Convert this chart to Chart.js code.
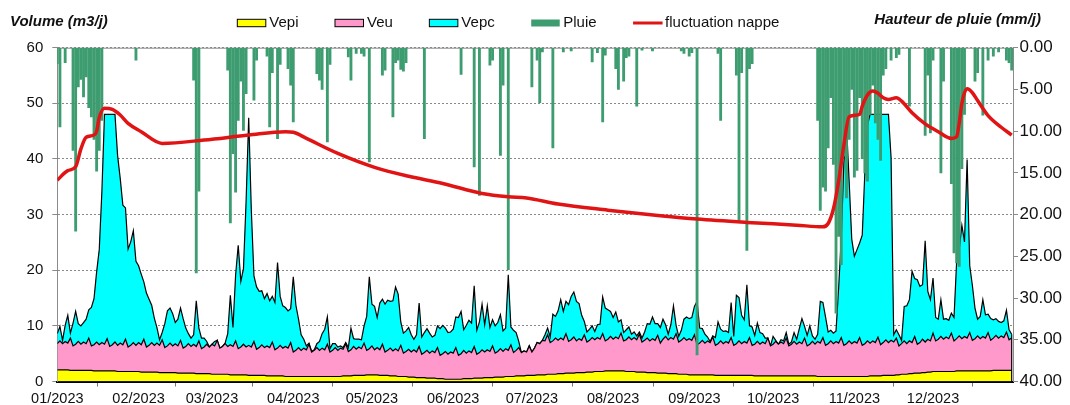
<!DOCTYPE html>
<html>
<head>
<meta charset="utf-8">
<title>Volumes et pluie 2023</title>
<script src="https://cdn.jsdelivr.net/npm/chart.js"></script>
<style>
  body { margin: 0; background: #fff; }
  #wrap { width: 1070px; height: 405px; }
</style>
</head>
<body>
<div id="wrap"><canvas id="chart" width="1070" height="405"></canvas></div>
<script>
// first day of each month (day of year) and the axis labels
var monthStarts = [0, 31, 59, 90, 120, 151, 181, 212, 243, 273, 304, 334];
var monthLabels = ['01/2023', '02/2023', '03/2023', '04/2023', '05/2023', '06/2023',
                   '07/2023', '08/2023', '09/2023', '10/2023', '11/2023', '12/2023'];

// daily volumes (m3/j), 1 Jan -> 31 Dec, one row per week
var vepi = [
  2.1,2.1,2.1,2.1,2.1,2.0,2.0, 2.0,2.0,2.0,2.0,2.0,2.0,2.0, 1.9,1.9,1.9,1.9,1.9,1.9,1.9,
  1.9,1.9,1.8,1.8,1.8,1.8,1.8, 1.8,1.8,1.8,1.8,1.7,1.7,1.7, 1.7,1.7,1.7,1.7,1.6,1.6,1.6,
  1.6,1.6,1.6,1.6,1.5,1.5,1.5, 1.5,1.5,1.5,1.5,1.4,1.4,1.4, 1.4,1.4,1.4,1.3,1.3,1.3,1.3,
  1.3,1.3,1.3,1.2,1.2,1.2,1.2, 1.2,1.2,1.2,1.1,1.1,1.1,1.1, 1.1,1.1,1.1,1.0,1.0,1.0,1.0,
  1.0,1.0,1.0,0.9,0.9,0.9,0.9, 0.9,0.9,0.9,0.9,0.9,0.9,0.9, 0.9,0.9,0.9,0.9,0.9,0.9,0.9,
  0.9,0.9,0.9,0.9,1.0,1.0,1.0, 1.0,1.1,1.1,1.1,1.1,1.1,1.2, 1.2,1.2,1.2,1.2,1.1,1.1,1.1,
  1.1,1.0,1.0,1.0,0.9,0.9,0.9, 0.9,0.8,0.8,0.8,0.7,0.7,0.7, 0.7,0.6,0.6,0.6,0.6,0.5,0.5,
  0.5,0.4,0.4,0.4,0.4,0.4,0.4, 0.4,0.5,0.5,0.5,0.5,0.6,0.6, 0.6,0.6,0.7,0.7,0.7,0.7,0.8,
  0.8,0.8,0.8,0.9,0.9,0.9,0.9, 1.0,1.0,1.0,1.0,1.1,1.1,1.1, 1.1,1.2,1.2,1.2,1.2,1.3,1.3,
  1.3,1.3,1.4,1.4,1.4,1.5,1.5, 1.5,1.5,1.6,1.6,1.6,1.6,1.7, 1.7,1.7,1.8,1.8,1.8,1.8,1.9,
  1.9,1.9,1.9,1.9,1.9,1.9,1.9, 1.8,1.8,1.8,1.8,1.7,1.7,1.7, 1.7,1.6,1.6,1.6,1.6,1.5,1.5,
  1.5,1.5,1.4,1.4,1.4,1.4,1.3, 1.3,1.3,1.3,1.2,1.2,1.2,1.2, 1.2,1.2,1.2,1.2,1.2,1.2,1.1,
  1.1,1.1,1.1,1.1,1.1,1.1,1.1, 1.1,1.1,1.1,1.1,1.1,1.1,1.1, 1.0,1.0,1.0,1.0,1.0,1.0,1.0,
  1.0,1.0,1.0,1.0,1.0,1.0,1.0, 1.0,1.0,1.0,1.0,1.0,1.0,1.0, 1.0,1.0,1.0,0.9,0.9,0.9,0.9,
  0.9,0.9,0.9,0.9,0.9,0.9,0.9, 0.9,0.9,0.9,0.9,0.9,0.9,0.9, 0.9,0.9,1.0,1.0,1.0,1.0,1.0,
  1.1,1.1,1.1,1.1,1.1,1.2,1.2, 1.3,1.3,1.3,1.4,1.4,1.5,1.5, 1.5,1.6,1.6,1.7,1.7,1.8,1.8,
  1.8,1.8,1.8,1.8,1.8,1.8,1.8, 1.9,1.9,1.9,1.9,1.9,1.9,1.9, 1.9,1.9,1.9,1.9,1.9,1.9,1.9,
  2.0,2.0,2.0,2.0,2.0,2.0,2.0, 2.0
];

var veu = [
  4.7,5.2,4.7,5.1,4.8,5.8,4.4, 4.7,5.2,4.7,5.1,4.8,5.8,4.4, 4.7,5.2,4.7,5.1,4.8,5.8,4.4,
  4.7,5.2,4.7,5.1,4.8,5.8,4.4, 4.7,5.2,4.7,5.2,4.9,5.9,4.5, 4.8,5.3,4.8,5.2,4.9,5.9,4.5,
  4.8,5.3,4.8,5.2,4.9,5.9,4.5, 4.8,5.3,4.8,5.2,4.9,5.9,4.5, 4.8,5.3,4.8,5.4,5.1,6.1,4.7,
  5.0,5.5,5.0,5.4,5.1,6.1,4.7, 5.0,5.5,5.0,5.4,5.1,6.1,4.7, 5.0,5.5,5.0,5.4,5.1,6.1,4.7,
  5.0,5.5,5.0,5.4,5.1,6.1,4.4, 4.7,5.2,4.7,5.1,4.8,5.8,4.4, 4.7,5.2,4.7,5.1,4.8,5.8,4.4,
  4.7,5.2,4.7,5.1,4.8,5.8,4.4, 4.7,5.2,4.7,5.1,4.8,5.8,4.4, 4.7,5.2,4.5,4.9,4.6,5.6,4.2,
  4.5,5.0,4.5,4.9,4.6,5.6,4.2, 4.5,5.0,4.5,4.9,4.6,5.6,4.2, 4.5,5.0,4.5,4.9,4.6,5.6,4.2,
  4.5,5.0,4.5,4.9,4.7,5.7,4.3, 4.6,5.1,4.6,5.0,4.7,5.7,4.3, 4.6,5.1,4.6,5.0,4.7,5.7,4.3,
  4.6,5.1,4.6,5.0,4.7,5.7,4.3, 4.6,5.1,4.2,4.5,4.2,5.3,4.2, 4.9,5.8,5.6,6.2,6.1,7.1,5.7,
  6.0,6.5,6.0,6.4,6.1,7.1,5.7, 6.0,6.5,5.7,6.1,5.8,6.8,5.4, 5.7,6.2,5.7,6.1,5.8,6.8,5.4,
  5.7,6.2,5.7,6.1,5.8,6.8,5.4, 5.7,6.2,5.7,6.1,5.8,6.8,5.4, 5.7,6.2,5.7,6.1,5.8,6.8,5.4,
  6.1,6.6,6.1,6.5,6.2,7.2,5.8, 6.1,6.6,6.1,6.5,6.2,7.2,5.4, 5.7,6.2,5.7,6.1,5.8,6.8,5.4,
  5.7,6.2,5.7,6.1,5.8,6.8,5.4, 5.7,6.2,5.7,6.1,5.8,6.8,5.4, 5.7,6.2,5.7,6.1,5.8,6.8,5.4,
  5.7,6.2,5.7,6.1,5.8,6.8,5.4, 5.7,6.2,5.7,6.1,5.8,6.8,5.4, 5.7,6.2,5.7,6.3,6.0,7.0,5.6,
  5.9,6.4,5.9,6.3,6.0,7.0,5.6, 5.9,6.4,5.9,6.3,6.0,7.0,5.6, 5.9,6.4,5.9,6.3,6.0,7.0,5.6,
  5.9,6.4,5.9,6.3,6.0,6.6,5.2, 5.5,6.0,5.5,5.9,5.6,6.6,5.2, 5.5,6.0,5.5,5.9,5.6,6.9,5.5,
  5.8,6.3,5.8,6.2,5.9,6.9,5.5, 5.8,6.3,5.8,6.2,5.9,6.9,5.5, 5.8,6.3,5.8,6.2,5.9,6.9,5.5,
  5.8,6.3,5.8,6.2,5.9,6.9,5.5, 5.8
];

var vepc = [
  1.8,2.6,0.6,2.9,5.0,0.9,4.1, 5.9,3.2,3.3,3.5,4.4,5.1,6.9, 8.3,12.6,17.1,27.1,41.3,40.3,41.7,
  41.4,40.9,34.1,29.6,25.1,23.6,17.6, 18.6,20.1,15.1,13.8,12.7,10.3,9.7, 8.3,6.7,4.9,2.8,1.0,1.3,4.3,
  6.3,6.3,5.8,3.8,4.8,5.8,5.3, 3.3,1.8,1.5,1.7,8.2,2.3,1.9, 1.6,0.5,0,0,0.8,0,0,
  0,0.1,2.3,8.9,3.4,11.8,18.6, 11.8,13.6,26.1,40.9,24.6,11.8,11.2, 10.1,9.7,8.8,9.4,8.4,8.2,8.5,
  15.4,8.8,7.6,7.0,6.7,6.1,13.5, 8.1,5.1,2.8,1.6,0.7,0.2,0.1, 0.1,0.7,1.6,2.6,3.7,4.9,0.6,
  1.2,0.7,0.6,0.4,0.3,0.2,0.7, 3.9,1.4,1.8,1.4,1.6,3.1,6.1, 12.9,7.5,7.8,5.4,8.4,8.1,8.6,
  9.0,8.4,9.0,11.1,10.2,4.2,3.6, 3.7,3.9,3.1,1.9,3.1,7.8,3.1, 3.6,3.9,3.6,2.5,3.1,3.9,4.8,
  5.1,4.2,3.9,3.6,4.3,5.5,6.8, 7.6,3.7,5.0,5.5,5.3,10.9,4.3, 5.5,8.2,4.9,7.9,4.3,4.7,4.9,
  5.2,6.1,3.7,3.7,13.6,3.2,4.0, 3.2,1.1,0,0,0,0,0, 0,0,0,0,1.1,1.2,1.0,
  4.8,3.9,5.3,6.9,5.1,5.8,6.6, 7.8,8.1,7.1,6.3,4.5,2.4,1.8, 2.0,2.1,1.5,2.3,2.7,6.6,5.9,
  5.3,4.5,3.9,4.5,3.0,2.4,1.5, 1.8,1.8,1.0,1.0,0.7,0.4,0.7, 1.5,2.6,3.0,3.9,3.0,2.1,2.8,
  3.6,2.1,1.0,2.3,6.0,1.5,1.0, 1.8,3.3,4.2,3.6,4.1,5.1,7.8, 2.7,2.1,1.6,0.7,0.2,0.2,1.4,
  3.9,2.1,2.2,1.9,1.9,6.3,1.6, 8.7,7.8,5.1,3.9,10.5,2.1,3.3, 1.6,3.3,2.1,1.5,1.0,0,0,
  1.4,0.2,0,0.4,0.5,1.0,0.3, 0.4,1.6,0.9,2.4,4.5,2.1,1.9, 3.3,1.0,0.9,1.3,7.5,6.3,5.1,
  2.1,1.9,1.9,1.9,9.9,17.9,32.9, 39.3,28.8,18.8,15.3,16.8,17.0,19.8, 30.8,38.8,41.1,40.7,41.0,40.0,41.4,
  41.0,40.5,41.0,32.8,1.3,1.5,2.0, 0.6,6.2,6.8,7.4,12.8,10.4,11.6, 10.1,9.8,18.2,8.6,7.4,9.9,4.2,
  3.6,6.6,3.6,3.3,3.3,3.6,4.2, 13.8,15.6,20.4,17.0,32.1,12.0,9.9, 5.5,3.0,4.0,6.6,4.2,3.3,3.9,
  3.3,3.0,3.0,2.4,3.0,3.9,1.8, 0.7
];

// daily rainfall (mm/j), rainy days only
var pluieDays = [0,1,3,6,7,8,9,10,11,12,13,14,15,16,17,30,
  52,53,54,65,66,67,68,69,70,71,72,75,76,80,81,82,84,85,88,89,90,99,100,101,103,104,111,112,114,116,117,119,
  124,125,128,129,130,131,132,133,140,154,159,161,165,166,169,170,172,181,183,184,185,189,193,196,
  204,206,208,209,213,214,216,217,218,221,223,227,238,239,241,242,244,
  252,253,259,260,261,263,264,265,
  290,291,292,293,294,295,296,297,298,299,300,301,302,303,304,305,306,307,308,309,310,311,312,313,314,315,316,318,320,321,
  325,331,332,333,334,337,338,341,342,343,344,345,346,350,351,353,355,357,359,362,363,364];
var pluieMm = [1.9,9.5,1.8,12.3,22.0,4.7,3.8,5.9,3.5,7.2,8.3,11.0,14.8,12.3,8.7,1.5,
  3.9,27.0,17.2,2.7,21.0,12.7,17.3,8.7,4.0,9.9,5.5,6.3,1.5,1.0,9.5,3.0,10.9,2.0,2.5,4.5,8.9,3.1,3.9,5.0,11.3,2.0,1.1,3.9,0.7,0.7,1.0,13.7,
  3.3,2.7,8.3,1.8,1.5,2.6,2.8,1.8,10.9,3.2,14.3,17.7,2.1,1.5,12.9,4.5,26.6,4.7,1.5,6.6,0.5,12.0,0.5,0.4,
  1.7,0.6,8.9,0.9,2.5,5.0,4.0,1.2,1.0,7.0,0.3,0.4,0.4,0.7,1.0,0.6,36.8,
  0.7,8.7,3.3,20.7,3.0,24.3,2.5,1.9,
  8.7,19.5,16.7,17.2,12.0,6.0,14.0,31.8,22.6,26.0,13.0,18.0,11.0,5.0,15.5,14.7,6.0,13.3,15.0,16.0,8.0,4.5,9.0,11.0,13.5,3.3,2.5,1.5,1.2,0.8,
  7.0,10.5,3.3,10.2,1.5,15.0,4.0,16.3,24.6,25.8,26.2,14.5,8.0,4.0,3.0,8.1,1.5,1.0,0.5,1.5,1.8,2.7];

// water table readings
var nappeDays = [0,4,7,9,11,14,15,16,18,21,24,27,32,40,56,73,87,90,95,107,121,134,147,162,172,179,191,210,230,244,
  263,282,292,294,296,298,300,302,306,307,309,311,313,315,317,320,322,326,331,336,341,343,344,345,347,349,351,355,360,364];
var nappeLevel = [36.2,37.9,38.6,41.8,43.9,44.3,45.0,47.4,49.1,48.9,47.9,46.4,44.9,42.8,43.4,44.3,44.9,44.8,43.7,41.0,
  38.5,36.9,35.6,33.8,33.2,33.0,31.9,30.8,29.8,29.2,28.6,28.1,27.8,28.4,31.0,36.0,42.5,47.6,48.0,49.5,
  51.5,52.2,51.8,51.0,50.7,51.0,50.4,48.3,46.3,44.9,43.7,44.0,46.5,50.0,52.6,51.9,50.5,47.8,45.7,44.3];

var FONT = '"Liberation Sans", Arial, sans-serif';

function byDay(values) {
  return values.map(function (v, i) { return { x: i, y: v }; });
}
function pairs(xs, ys) {
  return xs.map(function (x, i) { return { x: x, y: ys[i] }; });
}

// titles, legend row and top frame line
var decorations = {
  id: 'decorations',
  beforeDatasetsDraw: function (chart) {
    var a = chart.chartArea, ctx = chart.ctx;
    ctx.save();
    ctx.strokeStyle = '#8a8a8a';
    ctx.lineWidth = 1;
    ctx.beginPath();
    ctx.moveTo(a.left, a.top + 0.5);
    ctx.lineTo(a.right, a.top + 0.5);
    ctx.stroke();
    ctx.restore();
  },
  afterDatasetsDraw: function (chart) {
    // close the stacked areas on the right with a black edge
    var ctx = chart.ctx, x = chart.scales.x, y = chart.scales.y;
    var last = vepi.length - 1;
    var top = vepi[last] + veu[last] + vepc[last];
    ctx.save();
    ctx.strokeStyle = '#000';
    ctx.lineWidth = 1.2;
    ctx.beginPath();
    ctx.moveTo(x.getPixelForValue(last), y.getPixelForValue(0));
    ctx.lineTo(x.getPixelForValue(last), y.getPixelForValue(top));
    ctx.stroke();
    ctx.restore();
  },
  afterDraw: function (chart) {
    var ctx = chart.ctx;
    ctx.save();
    ctx.fillStyle = '#111';
    ctx.textBaseline = 'middle';
    ctx.font = 'bold italic 15px ' + FONT;
    ctx.textAlign = 'left';
    ctx.fillText('Volume (m3/j)', 10, 21.5);
    ctx.textAlign = 'right';
    ctx.fillText('Hauteur de pluie (mm/j)', 1041, 20);

    ctx.font = '15px ' + FONT;
    ctx.textAlign = 'left';
    var x = 237.3, y = 23;
    chart.data.datasets.forEach(function (ds) {
      if (ds.type === 'bar') {
        ctx.fillStyle = ds.backgroundColor;
        ctx.fillRect(x, y - 3.5, 28.5, 7);
      } else if (!ds.fill) {
        ctx.strokeStyle = ds.borderColor;
        ctx.lineWidth = 3;
        ctx.beginPath();
        ctx.moveTo(x, y);
        ctx.lineTo(x + 29.5, y);
        ctx.stroke();
      } else {
        ctx.fillStyle = ds.backgroundColor;
        ctx.fillRect(x, y - 3.7, 28.5, 7.4);
        ctx.strokeStyle = '#000';
        ctx.lineWidth = 1;
        ctx.strokeRect(x, y - 3.7, 28.5, 7.4);
      }
      ctx.fillStyle = '#111';
      ctx.fillText(ds.label, x + 32, y);
      x += 32 + ctx.measureText(ds.label).width + 36.5;
    });
    ctx.restore();
  }
};

var areaStyle = { borderColor: '#000', borderWidth: 1.2, pointRadius: 0, tension: 0 };

new Chart(document.getElementById('chart'), {
  type: 'line',
  data: {
    datasets: [
      Object.assign({ type: 'line', label: 'Vepi', data: byDay(vepi), backgroundColor: '#ffff00',
        fill: 'origin', stack: 'vol', yAxisID: 'y', order: 2 }, areaStyle),
      Object.assign({ type: 'line', label: 'Veu', data: byDay(veu), backgroundColor: '#ff99cc',
        fill: '-1', stack: 'vol', yAxisID: 'y', order: 3 }, areaStyle),
      Object.assign({ type: 'line', label: 'Vepc', data: byDay(vepc), backgroundColor: '#00ffff',
        fill: '-1', stack: 'vol', yAxisID: 'y', order: 4 }, areaStyle),
      { type: 'bar', label: 'Pluie', data: pairs(pluieDays, pluieMm), backgroundColor: '#3d9d70',
        borderWidth: 0, barThickness: 2.2, yAxisID: 'y2', order: 1 },
      { type: 'line', label: 'fluctuation nappe', data: pairs(nappeDays, nappeLevel),
        borderColor: '#e01414', borderWidth: 3.5, pointRadius: 0, fill: false,
        cubicInterpolationMode: 'monotone', stack: 'nappe', yAxisID: 'y', order: 0 }
    ]
  },
  options: {
    responsive: false,
    animation: false,
    devicePixelRatio: 1,
    layout: { padding: { top: 47.7, left: 0, right: 0, bottom: 0 } },
    plugins: { legend: { display: false }, tooltip: { enabled: false } },
    font: { family: FONT },
    scales: {
      x: {
        type: 'linear', min: 0, max: 364.5, offset: false,
        afterBuildTicks: function (axis) {
          axis.ticks = monthStarts.map(function (v) { return { value: v }; });
        },
        ticks: {
          autoSkip: false, maxRotation: 0, padding: 4, color: '#111',
          font: { family: FONT, size: 14.5 },
          callback: function (value, index) { return monthLabels[index]; }
        },
        grid: { drawOnChartArea: false, tickLength: 5, color: '#777' },
        border: { color: '#000', width: 2 },
        afterFit: function (s) { s.height = 23.5; }
      },
      y: {
        position: 'left', stacked: true, min: 0, max: 60,
        ticks: { stepSize: 10, padding: 9, color: '#111', font: { family: FONT, size: 15 } },
        grid: { color: '#8a8a8a', lineWidth: 1, tickLength: 5 },
        border: { color: '#8a8a8a', dash: [2, 2] },
        afterFit: function (s) { s.width = 57.3; }
      },
      y2: {
        position: 'right', reverse: true, min: 0, max: 40,
        ticks: {
          stepSize: 5, padding: 1.5, color: '#111', font: { family: FONT, size: 17 },
          callback: function (v) { return v.toFixed(2); }
        },
        grid: { drawOnChartArea: false, tickLength: 5, color: '#8a8a8a' },
        border: { color: '#8a8a8a' },
        afterFit: function (s) { s.width = 57; }
      }
    }
  },
  plugins: [decorations]
});
</script>
</body>
</html>
